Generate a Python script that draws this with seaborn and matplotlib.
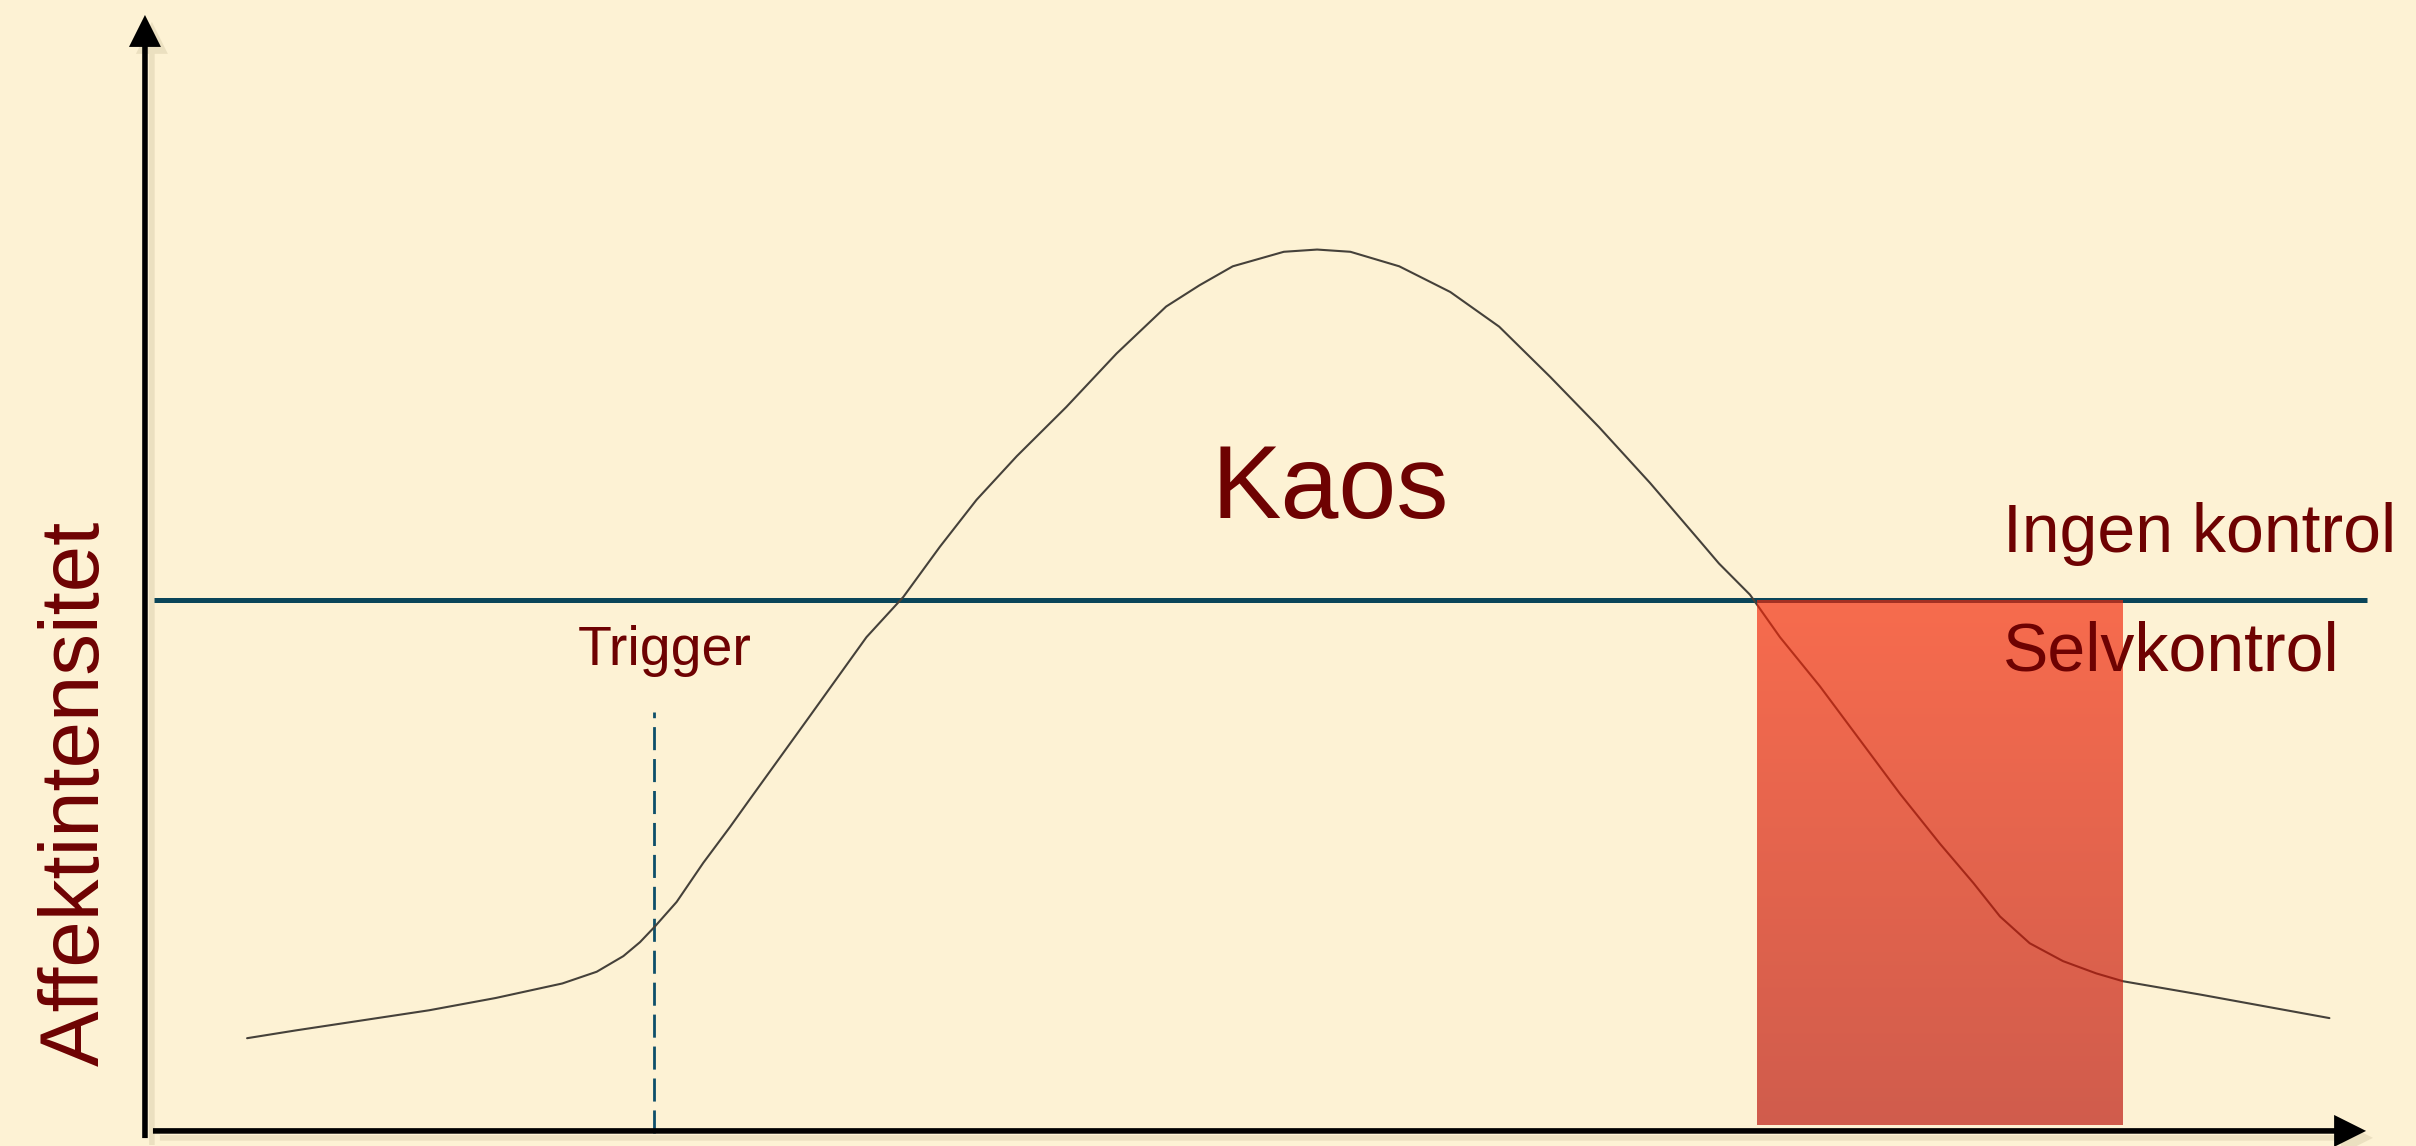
import matplotlib
matplotlib.use("Agg")
import matplotlib.pyplot as plt
import matplotlib.patheffects as pe
import seaborn as sns
import pandas as pd
import numpy as np

# affektkurve (tid 0-100, intensitet 0-100)
tid = [4.6, 6.8, 9.8, 12.8, 15.8, 18.8, 20.35, 21.55, 22.3, 22.97, 23.95, 25.15,
       26.35, 27.25, 29.9, 32.5, 34.16, 35.81, 37.46, 39.27, 41.5, 43.77, 46.0, 47.5,
       49.0, 51.3, 52.8, 54.3, 56.5, 58.8, 61.0, 63.3, 65.5, 67.8, 70.0, 70.9,
       72.3, 73.65, 75.45, 77.25, 79.05, 80.86, 82.36, 83.56, 84.9, 86.4, 87.9,
       89.1, 92.6, 98.4]
intensitet = [8.4, 9.1, 10.0, 10.9, 12.0, 13.3, 14.35, 15.75, 17.0, 18.4, 20.6, 24.1,
              27.3, 29.8, 37.1, 44.3, 47.9, 52.4, 56.6, 60.5, 64.9, 69.7, 73.9, 75.8,
              77.5, 78.8, 79.0, 78.8, 77.5, 75.2, 72.1, 67.6, 63.1, 58.1, 53.0, 50.9,
              48.1, 44.3, 39.9, 35.1, 30.3, 25.8, 22.3, 19.3, 16.9, 15.3, 14.2,
              13.5, 12.3, 10.2]

graense = 47.6          # ingen kontrol / selvkontrol
trigger_tid = 22.95
trigger_top = 37.6
zone_start, zone_slut = 72.6, 89.05
zone_bund = 0.6

BAGGRUND = "#fdf2d4"
TEKST = "#6e0202"
BLAA = "#0a4559"
FONT = "Liberation Sans"

sns.set_theme(style="white")
plt.rcParams["font.family"] = [FONT, "DejaVu Sans"]

fig = plt.figure(figsize=(24.16, 11.46), dpi=100, facecolor=BAGGRUND)
ax = fig.add_axes([0, 0, 1, 1])
ax.set_facecolor(BAGGRUND)
ax.set_xlim(-6.53, 102.3)
ax.set_ylim(-1.25, 101.34)
ax.axis("off")

df = pd.DataFrame({"tid": tid, "intensitet": intensitet})
sns.lineplot(data=df, x="tid", y="intensitet", ax=ax, color="#45413a",
             linewidth=1.5, zorder=3)

# graense-linje og trigger
ax.hlines(graense, 0.4, 100.1, color=BLAA, linewidth=3.6, zorder=2)
ax.vlines(trigger_tid, -0.1, trigger_top, color="#0d4f6a", linewidth=2.0,
          linestyles=(0, (8.3, 3.2)), zorder=2)

# selvkontrol-zone med gradient
bar = ax.bar(zone_start, graense - zone_bund, bottom=zone_bund,
             width=zone_slut - zone_start, align="edge",
             facecolor="none", edgecolor="none", zorder=4)[0]
grad = np.linspace(0, 1, 256).reshape(-1, 1)
top_farve = np.array([244, 40, 10]) / 255
bund_farve = np.array([186, 17, 8]) / 255
rgb = top_farve * (1 - grad[..., None]) + bund_farve * grad[..., None]
rgb = rgb.reshape(256, 1, 3)
img = ax.imshow(rgb, extent=(zone_start, zone_slut, zone_bund, graense),
                origin="upper", aspect="auto", alpha=0.67, zorder=4,
                interpolation="bilinear")
img.set_clip_path(bar)

# akser med pile
skygge = [pe.SimplePatchShadow(offset=(5, -5), shadow_rgbFace="#8a7a50", alpha=0.15),
          pe.Normal()]
pil = dict(width=4.0, headwidth=23, headlength=23, facecolor="black",
           edgecolor="none", shrink=0)
a1 = ax.annotate("", xy=(0, 100.0), xytext=(0, -0.54), arrowprops=pil, zorder=5)
a2 = ax.annotate("", xy=(100.05, 0.1), xytext=(0.36, 0.1), arrowprops=pil, zorder=5)
a1.arrow_patch.set_path_effects(skygge)
a2.arrow_patch.set_path_effects(skygge)

# tekster
ax.text(53.4, 55.0, "Kaos", fontsize=75, color=TEKST, ha="center", va="baseline", zorder=6)
ax.text(23.4, 41.8, "Trigger", fontsize=40, color=TEKST, ha="center", va="baseline", zorder=6)
ax.text(83.7, 51.9, "Ingen kontrol", fontsize=49, color=TEKST, ha="left", va="baseline", zorder=6)
ax.text(83.7, 41.3, "Selvkontrol", fontsize=49, color=TEKST, ha="left", va="baseline", zorder=6)
ax.text(-2.07, 30.3, "Affektintensitet", fontsize=60, color=TEKST, rotation=90,
        rotation_mode="anchor", ha="center", va="baseline", zorder=6)

fig.savefig("out.png", dpi=100, facecolor=BAGGRUND)
plt.close(fig)
